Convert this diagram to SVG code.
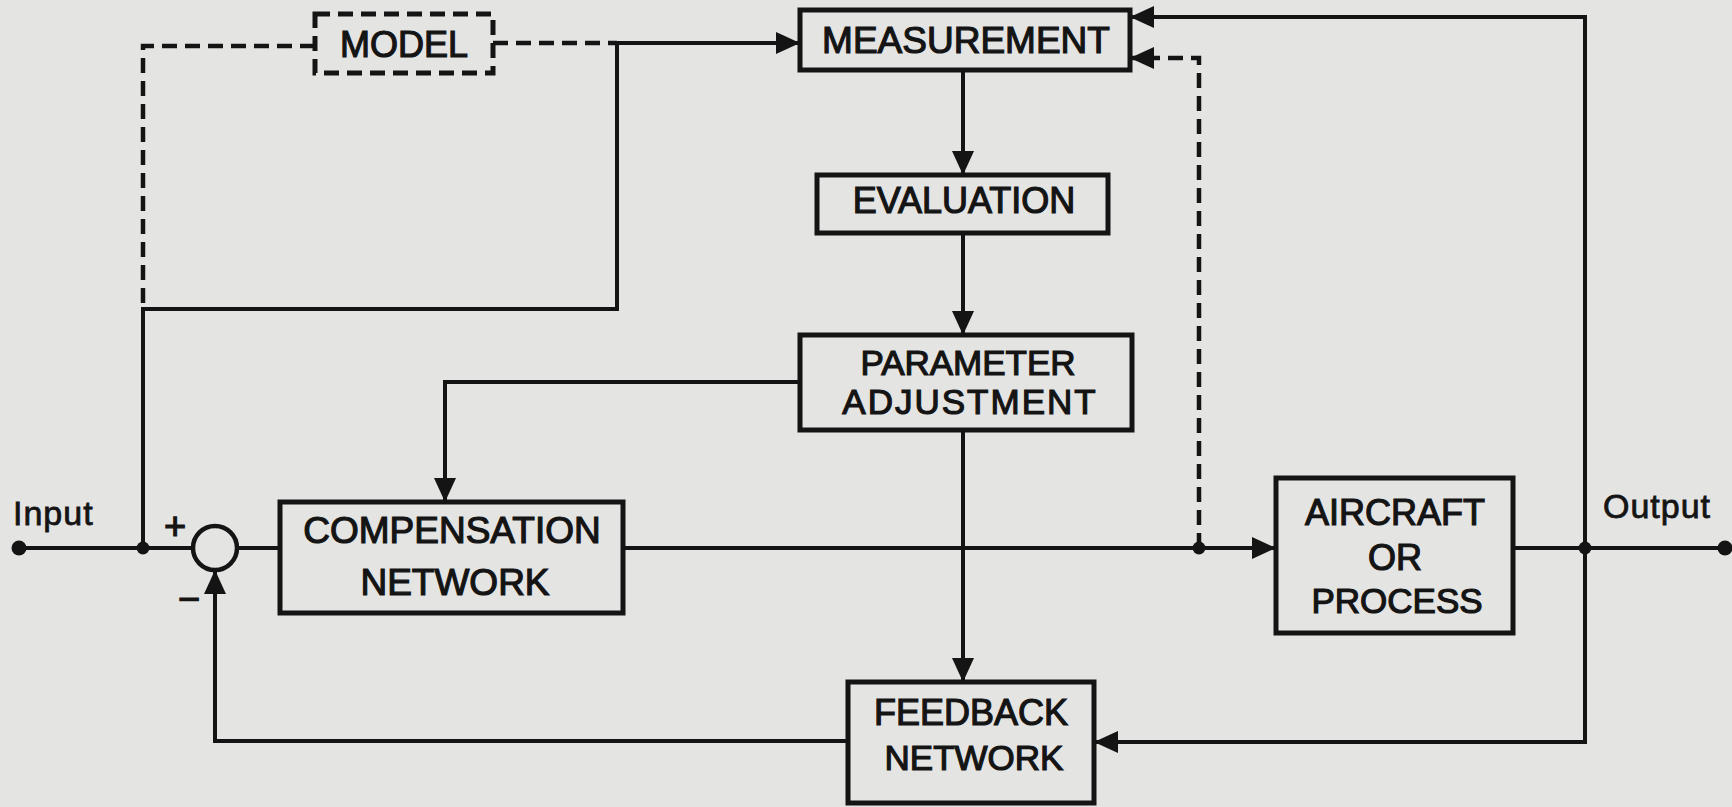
<svg xmlns="http://www.w3.org/2000/svg" width="1732" height="807" viewBox="0 0 1732 807">
<style>
.box{fill:none;stroke:#141414;stroke-width:5}
.dbox{fill:none;stroke:#141414;stroke-width:5;stroke-dasharray:15 8}
.ln{fill:none;stroke:#141414;stroke-width:4}
.dl{fill:none;stroke:#141414;stroke-width:4.5;stroke-dasharray:15 8}
.t{font-family:"Liberation Sans",Arial,sans-serif;font-size:36px;fill:#141414;stroke:#141414;stroke-width:1.2;text-anchor:middle}
.lbl{font-family:"Liberation Sans",Arial,sans-serif;font-size:34px;fill:#141414;stroke:#141414;stroke-width:0.8;letter-spacing:1px}
.dot{fill:#141414}
</style>
<defs>
<marker id="ah" viewBox="0 0 24 22" refX="24" refY="11" markerWidth="24" markerHeight="22" orient="auto" markerUnits="userSpaceOnUse">
<path d="M0,0 L24,11 L0,22 z" fill="#141414"/>
</marker>
</defs>
<rect x="0" y="0" width="1732" height="807" fill="#e4e4e3"/>

<g id="connectors">
<path class="ln" d="M19,548 H193"/>
<path class="ln" d="M237,548 H280"/>
<path class="ln" d="M143,548 V309 H617 V43 H800" marker-end="url(#ah)"/>
<path class="dl" d="M143,303 V46 H315"/>
<path class="dl" d="M493,43 H617"/>
<path class="ln" d="M963,70 V175" marker-end="url(#ah)"/>
<path class="ln" d="M963,233 V335" marker-end="url(#ah)"/>
<path class="ln" d="M963,430 V682" marker-end="url(#ah)"/>
<path class="ln" d="M800,382 H445 V502" marker-end="url(#ah)"/>
<path class="ln" d="M623,548 H1276" marker-end="url(#ah)"/>
<path class="dl" d="M1199,548 V58 H1130" marker-end="url(#ah)"/>
<path class="ln" d="M1513,548 H1725"/>
<path class="ln" d="M1585,548 V17 H1130" marker-end="url(#ah)"/>
<path class="ln" d="M1585,548 V742 H1094" marker-end="url(#ah)"/>
<path class="ln" d="M848,741 H215 V570" marker-end="url(#ah)"/>
<circle class="dot" cx="19" cy="548" r="7.5"/>
<circle class="dot" cx="143" cy="548" r="6.5"/>
<circle class="dot" cx="1199" cy="548" r="6.5"/>
<circle class="dot" cx="1585" cy="548" r="6.5"/>
<circle class="dot" cx="1725" cy="548" r="7.5"/>
</g>

<g id="summing">
<circle cx="215" cy="548" r="22" fill="none" stroke="#141414" stroke-width="4.5"/>
<text class="t" x="175" y="539" style="font-size:38px">+</text>
<text class="t" x="189" y="612" style="font-size:38px">−</text>
</g>

<g id="model">
<rect class="dbox" x="315" y="14" width="178" height="59"/>
<text class="t" x="404" y="57">MODEL</text>
</g>

<g id="measurement">
<rect class="box" x="800" y="10" width="330" height="60"/>
<text class="t" x="966" y="53" style="font-size:37px">MEASUREMENT</text>
</g>

<g id="evaluation">
<rect class="box" x="817" y="175" width="291" height="58"/>
<text class="t" x="964" y="213">EVALUATION</text>
</g>

<g id="parameter">
<rect class="box" x="800" y="335" width="332" height="95"/>
<text class="t" x="968" y="375" style="font-size:35px">PARAMETER</text>
<text class="t" x="970" y="414" style="font-size:35px;letter-spacing:2px">ADJUSTMENT</text>
</g>

<g id="compensation">
<rect class="box" x="280" y="502" width="343" height="111"/>
<text class="t" x="452" y="543" style="font-size:37px">COMPENSATION</text>
<text class="t" x="455" y="595" style="font-size:37px">NETWORK</text>
</g>

<g id="aircraft">
<rect class="box" x="1276" y="478" width="237" height="155"/>
<text class="t" x="1395" y="525">AIRCRAFT</text>
<text class="t" x="1395" y="570">OR</text>
<text class="t" x="1397" y="613" style="font-size:35px">PROCESS</text>
</g>

<g id="feedback">
<rect class="box" x="848" y="682" width="246" height="121"/>
<text class="t" x="971" y="725">FEEDBACK</text>
<text class="t" x="974" y="770" style="font-size:35px">NETWORK</text>
</g>

<g id="labels">
<text class="lbl" x="13" y="525">Input</text>
<text class="lbl" x="1603" y="518">Output</text>
</g>
</svg>
